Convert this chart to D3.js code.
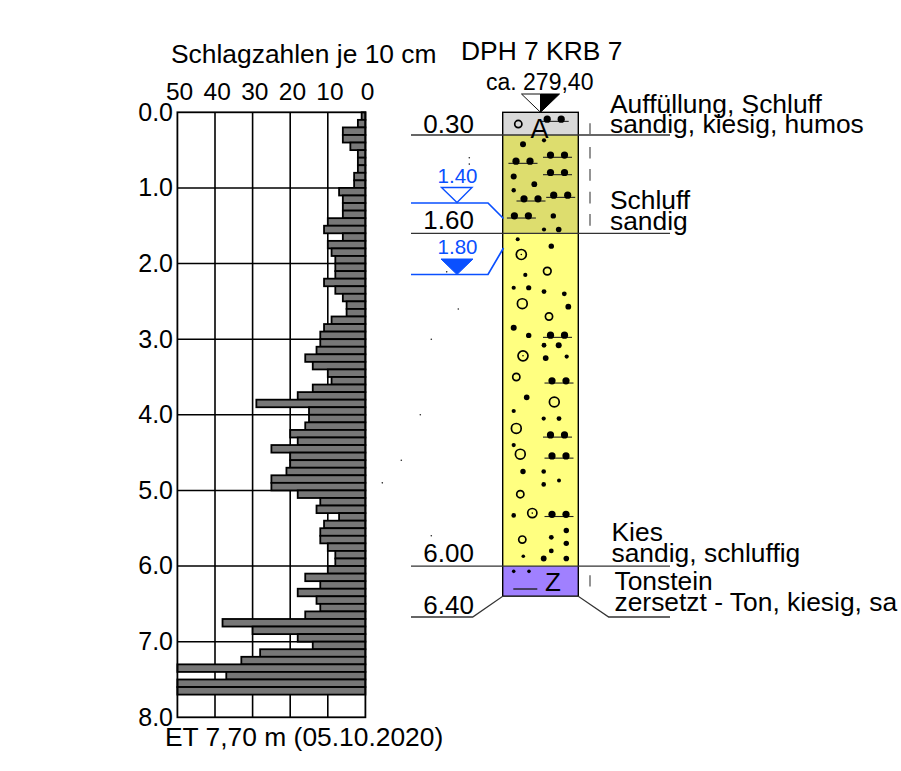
<!DOCTYPE html>
<html><head><meta charset="utf-8">
<script src="https://cdnjs.cloudflare.com/ajax/libs/d3/7.8.5/d3.min.js"></script>
<style>html,body{margin:0;padding:0;background:#fff}svg{display:block}text{font-family:"Liberation Sans",Arial,sans-serif;fill:#000}</style>
</head><body><svg id="c" width="901" height="771"></svg>
<script>
// Schlagzahlen per 10 cm, from 0.0 to 7.7 m
const blows = [1,2,6,6,4,2,2,2,3,3,7,6,6,6,10,11,6,10,9,8,8,8,11,8,6,5,5,9,11,12,12,13,16,14,10,9,14,18,29,15,15,16,20,18,25,20,20,21,25,25,18,12,13,7,11,12,12,10,8,8,10,16,12,18,13,12,16,38,30,18,14,28,33,50,37,50,50];
const blowTicks = [50,40,30,20,10,0];
const depthTicks = [0,1,2,3,4,5,6,7,8];
// Layers
const layerTop = [0,0.3,1.6,6.0];
const layerBottom = [0.3,1.6,6.0,6.4];
const layerColors = ["#d9d9d9","#dddd6e","#ffff80","#a080ff"];
const layerLabels = ["0.30","1.60","6.00","6.40"];
// Lithology symbols: depth (m), position across the column (0-76)
const dotDepth = [0.423,0.37,0.85,0.95,1.03,1.37,1.55,1.55,1.68,1.77,2.15,2.32,2.32,2.37,2.40,2.57,2.85,2.95,3.08,3.08,3.25,3.23,3.77,3.95,4.05,4.05,4.40,4.75,4.75,4.87,4.92,5.33,5.53,5.62,5.70,5.80,5.87,5.90,5.90,6.07,6.07];
const dotCol = [20.3,41.3,11,31.6,11,50.6,41.3,56,15,48.6,22.6,11,26,41.3,61.6,65.6,11,26,41.3,56,43,64,24,11,41,56.3,11,20.3,41,56.3,41,11,63.6,48.6,63.6,48.6,20.6,41,63.6,11,26.3];
const dotSize = [3,2.1,3,2.9,2.2,2.7,2.1,2.8,2,2.7,2.1,2.1,2.6,2.4,2.4,2.9,3,2.7,2.4,3,2.9,2.1,2.8,2.1,2.1,2.4,2.1,2.7,2.3,2,2.3,2.3,2.7,2.4,2.7,2.4,1.8,2.9,2.8,1.8,1.8];
const sandDepth = [0.12,0.595,0.675,0.825,1.125,1.173,1.398,2.976,3.58,4.295,4.573,5.345];
const sandCol = [51.5,54.8,20.3,54.8,58,28.3,18.7,54.8,56.3,54.8,56.3,56.3];
const ringDepth = [0.155,1.88,2.10,2.53,2.70,3.22,3.50,3.83,4.18,4.52,5.05,5.30,5.65];
const ringCol = [15.6,18.6,44.6,19.6,46.3,20.3,13.6,51.6,13.6,17.6,17.6,29.6,19.6];
const ringSize = [3.6,5,3.8,4.9,3.6,5,3.6,4.9,4.9,4.9,3.6,4.6,3.6];
const ringDotted = [0,1,0,0,0,1,0,0,0,0,0,1,0];
const strayDepth = [0.6,0.685,2.11,2.60,3.0,4.0,4.6,4.9,5.6];
const strayCol = [-33.4,-33.4,-56,-44.4,-71.4,-82.4,-101.4,-120.4,-71.4];
// Consistency dashes: top and bottom depth
const dashTop = [0.145,0.46,0.75,1.05,1.345,6.12];
const dashBottom = [0.29,0.61,0.905,1.205,1.50,6.27];
const descriptions = [
 ["Auffüllung, Schluff","sandig, kiesig, humos"],
 ["Schluff","sandig"],
 ["Kies","sandig, schluffig"],
 ["Tonstein","zersetzt - Ton, kiesig, sa"]];
const waterLevels = [1.40,1.80];

const svg = d3.select("#c");
const yD = d3.scaleLinear().domain([0,8]).range([112.3,717.3]);
const xB = d3.scaleLinear().domain([50,0]).range([177.4,365.4]);
const xC = d3.scaleLinear().domain([0,75.6]).range([502.7,578.3]);
const barBand = d3.scaleBand().domain(d3.range(blows.length)).range([yD(0),yD(7.7)]).paddingInner(0).paddingOuter(0);
const ink="#000", line="#333";
function T(x,y,s,size,anchor,fill){const t=svg.append("text").attr("x",x).attr("y",y).attr("font-size",size).attr("text-anchor",anchor||"start").text(s);if(fill)t.style("fill",fill);return t;}

// --- left plot
const g = svg.append("g");
g.selectAll("line.v").data(blowTicks.slice(1,5)).join("line").attr("x1",d=>xB(d)).attr("x2",d=>xB(d)).attr("y1",yD(0)).attr("y2",yD(8)).attr("stroke",ink).attr("stroke-width",1.6);
g.selectAll("line.h").data(depthTicks.slice(1,8)).join("line").attr("x1",xB(50)).attr("x2",xB(0)).attr("y1",d=>yD(d)).attr("y2",d=>yD(d)).attr("stroke",ink).attr("stroke-width",1.4);
g.selectAll("rect.b").data(blows).join("rect").attr("x",d=>xB(d)).attr("width",d=>xB(0)-xB(d)).attr("y",(d,i)=>barBand(i)).attr("height",barBand.bandwidth()).attr("fill","#777777").attr("stroke",ink).attr("stroke-width",1.8);
g.append("rect").attr("x",xB(50)).attr("y",yD(0)).attr("width",xB(0)-xB(50)).attr("height",yD(8)-yD(0)).attr("fill","none").attr("stroke",ink).attr("stroke-width",1.8);
blowTicks.forEach(d=>T(xB(d)+2.2,100,String(d),24.5,"middle"));
depthTicks.forEach(d=>T(173,yD(d)+8.4,d.toFixed(1),25,"end"));
T(171,63.3,"Schlagzahlen je 10 cm",26.4,"start");
T(165,746,"ET 7,70 m (05.10.2020)",26.4,"start");

// --- column
const c = svg.append("g");
c.selectAll("rect.l").data(layerTop).join("rect").attr("x",xC(0)).attr("width",xC(75.6)-xC(0)).attr("y",d=>yD(d)).attr("height",(d,i)=>yD(layerBottom[i])-yD(d)).attr("fill",(d,i)=>layerColors[i]);
c.append("rect").attr("x",xC(0)).attr("width",xC(75.6)-xC(0)).attr("y",yD(0)).attr("height",yD(6.4)-yD(0)).attr("fill","none").attr("stroke",ink).attr("stroke-width",1.4);
// layer lines
[0.3,1.6,6.0].forEach(d=>c.append("line").attr("x1",411).attr("x2",670).attr("y1",yD(d)).attr("y2",yD(d)).attr("stroke",line).attr("stroke-width",1.3));
const y64=yD(6.4), yL=617;
c.append("path").attr("d",d3.line()([[411,yL],[472.7,yL],[xC(0),y64],[xC(75.6),y64],[608.7,yL],[670,yL]])).attr("fill","none").attr("stroke",line).attr("stroke-width",1.3);
[132.7,229.3,562.3,614].forEach((y,i)=>T(423.3,y,layerLabels[i],26));
// symbols
c.selectAll("circle.d").data(dotDepth).join("circle").attr("cx",(d,i)=>xC(dotCol[i])).attr("cy",d=>yD(d)).attr("r",(d,i)=>dotSize[i]).attr("fill","#000");
const sand=c.selectAll("g.s").data(sandDepth).join("g").attr("transform",(d,i)=>`translate(${xC(sandCol[i])},${yD(d)})`);
sand.append("line").attr("x1",-14.5).attr("x2",14.5).attr("stroke","#222").attr("stroke-width",1.1);
sand.append("circle").attr("cx",-7).attr("cy",-2.2).attr("r",3.6).attr("fill","#000");
sand.append("circle").attr("cx",7).attr("cy",-2.2).attr("r",3.6).attr("fill","#000");
c.selectAll("circle.r").data(ringDepth).join("circle").attr("cx",(d,i)=>xC(ringCol[i])).attr("cy",d=>yD(d)).attr("r",(d,i)=>ringSize[i]).attr("fill","none").attr("stroke","#000").attr("stroke-width",1.7);
c.selectAll("circle.rd").data(ringDepth.filter((d,i)=>ringDotted[i])).join("circle").attr("cx",d=>xC(ringCol[ringDepth.indexOf(d)])).attr("cy",d=>yD(d)).attr("r",0.8).attr("fill","#000");
c.selectAll("circle.st").data(strayDepth).join("circle").attr("cx",(d,i)=>xC(strayCol[i])).attr("cy",d=>yD(d)).attr("r",0.8).attr("fill","#222");
c.selectAll("line.da").data(dashTop).join("line").attr("x1",590).attr("x2",590).attr("y1",d=>yD(d)).attr("y2",(d,i)=>yD(dashBottom[i])).attr("stroke","#666").attr("stroke-width",1.4);
T(539.5,138,"A",27,"middle");
T(553,591,"Z",26,"middle");
c.append("line").attr("x1",513.3).attr("x2",537.3).attr("y1",589).attr("y2",589).attr("stroke","#222").attr("stroke-width",1.4);

// head
T(461,60,"DPH 7 KRB 7",26.4,"start");
T(486,90,"ca. 279,40",23,"start");
c.append("path").attr("d","M521.5,94 L540.5,94 L540.5,112.3 Z").attr("fill","#fff").attr("stroke","#111").attr("stroke-width",1);
c.append("path").attr("d","M540.5,94 L559.5,94 L540.5,112.3 Z").attr("fill","#000").attr("stroke","#000").attr("stroke-width",1);

// water
const blue="#0a50ff";
c.append("path").attr("d",d3.line()([[411,203],[488,203],[503.5,218.5]])).attr("fill","none").attr("stroke",blue).attr("stroke-width",1.7);
c.append("path").attr("d",d3.line()([[411,274.5],[488,274.5],[503.5,248]])).attr("fill","none").attr("stroke",blue).attr("stroke-width",1.7);
c.append("path").attr("d","M441.5,187.5 L472,187.5 L457,202.5 Z").attr("fill","#fff").attr("stroke",blue).attr("stroke-width",1.4);
c.append("path").attr("d","M441,259 L473,259 L457,274.5 Z").attr("fill",blue).attr("stroke",blue).attr("stroke-width",1);
T(457.5,183,waterLevels[0].toFixed(2),20.5,"middle",blue);
T(457.5,254,waterLevels[1].toFixed(2),20.5,"middle",blue);

// descriptions
[[610,113,133.3],[610,208.5,230],[611.5,540.7,562.3],[614.5,590,611]].forEach((p,i)=>{
 T(p[0],p[1],descriptions[i][0],26.4);
 T(p[0],p[2],descriptions[i][1],26.4);
});
</script></body></html>
